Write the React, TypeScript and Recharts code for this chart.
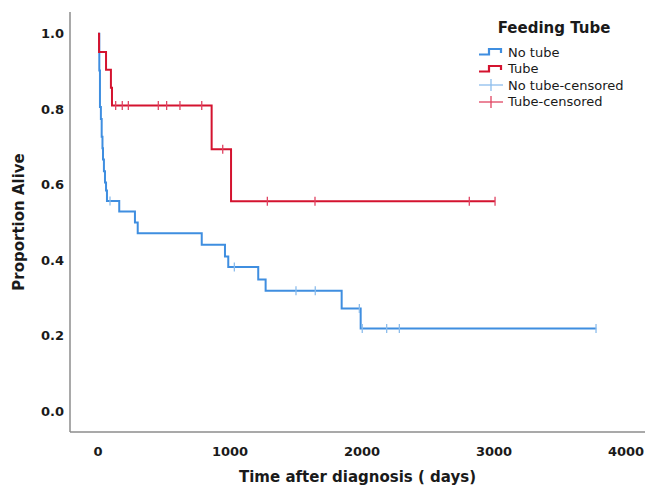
import {
  ComposedChart,
  Line,
  Scatter,
  XAxis,
  YAxis,
} from 'recharts';

// Kaplan-Meier steps (time in days, proportion alive after the step)
const tubeTimes = [0, 8, 61, 98, 106, 861, 1008, 3008];
const tubeSurv = [1.0, 0.952, 0.905, 0.857, 0.81, 0.694, 0.556, 0.556];

const noTubeTimes = [0, 10, 15, 22, 28, 34, 38, 45, 53, 61, 68, 161, 280, 301, 786, 962, 987, 1214, 1270, 1846, 1990, 3775];
const noTubeSurv = [1.0, 0.903, 0.806, 0.774, 0.727, 0.697, 0.667, 0.636, 0.606, 0.585, 0.557, 0.529, 0.5, 0.471, 0.441, 0.41, 0.382, 0.349, 0.319, 0.272, 0.219, 0.219];

// censored observations
const tubeCensorTimes = [134, 184, 230, 457, 520, 621, 786, 945, 1283, 1644, 2813, 3008];
const tubeCensorSurv = [0.81, 0.81, 0.81, 0.81, 0.81, 0.81, 0.81, 0.694, 0.556, 0.556, 0.556, 0.556];

const noTubeCensorTimes = [91, 1033, 1500, 1646, 1980, 2002, 2187, 2283, 3773];
const noTubeCensorSurv = [0.557, 0.382, 0.319, 0.319, 0.272, 0.219, 0.219, 0.219, 0.219];

const xTicks = [0, 1000, 2000, 3000, 4000];
const yTicks = [0, 0.2, 0.4, 0.6, 0.8, 1.0];

const BLUE = '#3f8ee0';
const RED = '#d4132f';
const BLUE_CENSOR = '#8dbdec';
const RED_CENSOR = '#e04462';

const zip = (t: number[], s: number[]) => t.map((time, i) => ({ time, surv: s[i] }));

const tubeData = zip(tubeTimes, tubeSurv);
const noTubeData = zip(noTubeTimes, noTubeSurv);
const tubeCensor = zip(tubeCensorTimes, tubeCensorSurv);
const noTubeCensor = zip(noTubeCensorTimes, noTubeCensorSurv);

const censorShape = (color: string) => (props: any) => {
  const { cx, cy } = props;
  return <line x1={cx} x2={cx} y1={cy - 4.5} y2={cy + 4.5} stroke={color} strokeWidth={1.3} />;
};

const font = '"DejaVu Sans", Verdana, sans-serif';

function StepIcon({ color }: { color: string }) {
  return (
    <svg width={24} height={10} style={{ display: 'block' }}>
      <polyline
        points="0,7.5 10,7.5 10,2 22,2 22,6"
        fill="none"
        stroke={color}
        strokeWidth={2.2}
      />
    </svg>
  );
}

function CensorIcon({ color }: { color: string }) {
  return (
    <svg width={24} height={14} style={{ display: 'block' }}>
      <line x1={0} x2={24} y1={7} y2={7} stroke={color} strokeWidth={1.3} />
      <line x1={12} x2={12} y1={1} y2={13} stroke={color} strokeWidth={1.3} />
    </svg>
  );
}

function KMLegend() {
  const rows = [
    { label: 'No tube', icon: <StepIcon color={BLUE} /> },
    { label: 'Tube', icon: <StepIcon color={RED} /> },
    { label: 'No tube-censored', icon: <CensorIcon color={BLUE_CENSOR} /> },
    { label: 'Tube-censored', icon: <CensorIcon color={RED_CENSOR} /> },
  ];
  return (
    <div style={{ position: 'absolute', top: 19, left: 479, fontFamily: font, color: '#1a1a1a' }}>
      <div style={{ fontWeight: 'bold', fontSize: 15, textAlign: 'center', width: 150, lineHeight: '18px', marginBottom: 7 }}>
        Feeding Tube
      </div>
      {rows.map((r) => (
        <div key={r.label} style={{ display: 'flex', alignItems: 'center', height: 16.5, fontSize: 13 }}>
          <div style={{ width: 29 }}>{r.icon}</div>
          <span>{r.label}</span>
        </div>
      ))}
    </div>
  );
}

export default function App() {
  return (
    <div style={{ position: 'absolute', left: 0, top: 0, width: 646, height: 485, background: '#fff' }}>
      <ComposedChart width={646} height={485} margin={{ top: 12, right: 1, bottom: 0, left: 0 }}>
        <XAxis
          dataKey="time"
          type="number"
          domain={[-212, 4144]}
          ticks={xTicks}
          allowDataOverflow
          height={53}
          tickLine={false}
          tickSize={0}
          tickMargin={15}
          axisLine={{ stroke: '#8c8c8c', strokeWidth: 1.5 }}
          tick={{ fill: '#1a1a1a', fontSize: 13, fontWeight: 'bold', fontFamily: font }}
          label={{
            value: 'Time after diagnosis ( days)',
            position: 'insideBottom',
            offset: 3,
            fill: '#1a1a1a',
            fontSize: 15,
            fontWeight: 'bold',
            fontFamily: font,
          }}
        />
        <YAxis
          dataKey="surv"
          type="number"
          domain={[-0.0557, 1.058]}
          ticks={yTicks}
          allowDataOverflow
          width={70}
          tickLine={false}
          tickSize={0}
          tickMargin={6}
          tickFormatter={(v: number) => v.toFixed(1)}
          axisLine={{ stroke: '#8c8c8c', strokeWidth: 1.5 }}
          tick={{ fill: '#1a1a1a', fontSize: 13, fontWeight: 'bold', fontFamily: font }}
          label={{
            value: 'Proportion Alive',
            angle: -90,
            position: 'insideLeft',
            offset: 19,
            style: { textAnchor: 'middle' },
            fill: '#1a1a1a',
            fontSize: 15,
            fontWeight: 'bold',
            fontFamily: font,
          }}
        />
        <Line
          data={noTubeData}
          dataKey="surv"
          type="stepAfter"
          stroke={BLUE}
          strokeWidth={2}
          dot={false}
          isAnimationActive={false}
        />
        <Line
          data={tubeData}
          dataKey="surv"
          type="stepAfter"
          stroke={RED}
          strokeWidth={2}
          dot={false}
          isAnimationActive={false}
        />
        <Scatter data={noTubeCensor} dataKey="surv" shape={censorShape(BLUE_CENSOR)} isAnimationActive={false} />
        <Scatter data={tubeCensor} dataKey="surv" shape={censorShape(RED_CENSOR)} isAnimationActive={false} />
      </ComposedChart>
      <KMLegend />
    </div>
  );
}
